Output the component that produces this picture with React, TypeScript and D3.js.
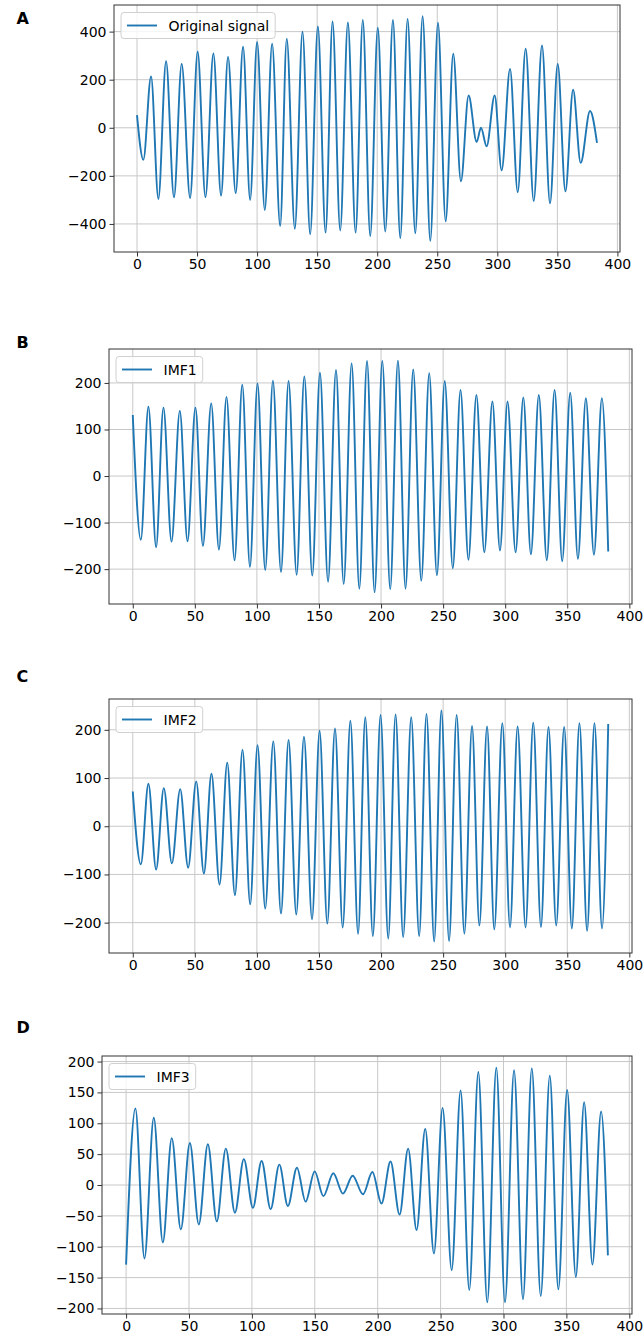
import { useEffect, useRef } from "react";
import * as d3 from "d3";

const WIDTH = 644;
const HEIGHT = 1339;
const BLUE = "#1f77b4";
const FONT = "'DejaVu Sans', 'Liberation Sans', sans-serif";

// turning points (sample index, amplitude)
const originalX = [0, 5.3, 11.7, 17.8, 24.2, 30.8, 37.2, 44.2, 50.5, 57, 63.6, 70, 75.8, 82.2, 88.3, 94.2, 100, 106.4, 112.5, 119.2, 124.7, 131.4, 137.8, 144.2, 150.6, 157, 162.8, 169.2, 175.6, 182, 188, 194.2, 200.5, 206.7, 213.1, 219.2, 225.3, 231.7, 237.8, 244.2, 250.6, 257, 263.3, 269.7, 276.1, 282.8, 286.4, 291.1, 297.8, 303.6, 310.6, 317, 323.6, 330.3, 337.2, 343.9, 350.3, 356.7, 363.1, 369.4, 377.2, 383];
const originalY = [53, -133, 214, -296, 277, -289, 266, -292, 316, -289, 309, -282, 295, -272, 337, -300, 357, -342, 350, -408, 371, -420, 400, -443, 421, -436, 442, -427, 438, -436, 449, -450, 416, -432, 448, -459, 453, -439, 464, -470, 437, -389, 308, -223, 134, -59, 0, -77, 134, -177, 245, -268, 329, -305, 342, -314, 266, -264, 158, -146, 70, -63];

const imf1X = [0, 6.5, 12.6, 18.8, 24.7, 31.2, 37.9, 44.1, 50.5, 56.5, 63.2, 69.4, 75.5, 82, 88.2, 94.4, 100.5, 106.7, 112.9, 119.4, 125.5, 132, 138.2, 144.6, 150.8, 157.3, 163.7, 169.9, 176.3, 182.5, 188.7, 194.8, 201, 207.4, 213.6, 219.7, 225.9, 232.4, 238.8, 245, 251.3, 257.8, 264, 270.4, 276.8, 283.2, 289.7, 295.8, 301.9, 308.4, 314.6, 320.7, 327.1, 333.5, 339.8, 345.9, 352.4, 358.6, 365, 371.5, 377.9, 383];
const imf1Y = [131, -137, 149, -153, 147, -141, 140, -140, 147, -150, 156, -158, 170, -181, 196, -195, 199, -202, 205, -206, 204, -212, 214, -214, 222, -227, 228, -232, 242, -242, 247, -250, 247, -243, 248, -242, 229, -225, 221, -213, 204, -198, 185, -180, 174, -164, 160, -160, 160, -164, 169, -168, 174, -181, 185, -183, 179, -178, 167, -169, 167, -162];

const imf2X = [0, 6.5, 12.6, 18.8, 25, 31.5, 38.2, 44.6, 51.1, 57.3, 63.4, 69.9, 76.1, 82.3, 88.4, 94.6, 100.5, 106.7, 113.2, 119.4, 125.5, 131.7, 137.9, 144.4, 150.5, 156.7, 162.9, 169.1, 175.3, 181.5, 187.3, 193.4, 199.6, 205.8, 211.7, 217.8, 224.3, 230.7, 236.6, 242.8, 248.6, 254.8, 260.9, 267.1, 273.3, 279.2, 285.4, 291.2, 297.7, 303.9, 310, 316.4, 322.6, 328.8, 334.9, 341.1, 347.5, 353.7, 359.8, 366, 371.9, 378, 383];
const imf2Y = [72, -79, 88, -90, 79, -77, 77, -86, 93, -98, 109, -121, 132, -143, 159, -162, 168, -171, 176, -181, 179, -183, 186, -193, 198, -202, 203, -210, 219, -223, 226, -228, 231, -233, 232, -230, 226, -228, 233, -239, 240, -238, 231, -223, 208, -206, 207, -214, 214, -210, 207, -210, 215, -209, 206, -206, 206, -212, 214, -217, 214, -212, 212];

const imf3X = [0, 7.4, 14.6, 22, 29.2, 36.3, 43.5, 50.7, 57.8, 65, 72.1, 79.3, 86.5, 93.6, 100.8, 107.7, 114.9, 121.8, 128.6, 135.8, 142.7, 149.9, 156.8, 164.7, 172.4, 180.1, 188.3, 195.8, 203, 210.2, 217.4, 224.2, 230.9, 237.8, 244.7, 251.6, 258.8, 265.9, 272.8, 280, 287.1, 294.3, 301.2, 308.4, 315.5, 322.5, 329.6, 336.8, 343.6, 350.6, 357.5, 364.1, 370.7, 377.6, 383];
const imf3Y = [-129, 124, -119, 109, -93, 76, -72, 68, -64, 66, -59, 59, -45, 42, -37, 39, -39, 33, -34, 28, -27, 22, -18, 19, -14, 15, -15, 21, -30, 38, -48, 59, -73, 91, -111, 125, -138, 153, -170, 183, -190, 190, -190, 186, -185, 189, -180, 177, -169, 154, -149, 134, -129, 119, -114];

const xTicks = [0, 50, 100, 150, 200, 250, 300, 350, 400];
const ticksOriginal = [-400, -200, 0, 200, 400];
const ticksImf = [-200, -100, 0, 100, 200];
const ticksImf3 = [-200, -150, -100, -50, 0, 50, 100, 150, 200];

const panels = [
  { letter: "A", letterY: 24, label: "Original signal", xs: originalX, ys: originalY, yTicks: ticksOriginal, box: { left: 114, right: 620, top: 5, bottom: 252 } },
  { letter: "B", letterY: 348, label: "IMF1", xs: imf1X, ys: imf1Y, yTicks: ticksImf, box: { left: 109, right: 632, top: 349, bottom: 604 } },
  { letter: "C", letterY: 682, label: "IMF2", xs: imf2X, ys: imf2Y, yTicks: ticksImf, box: { left: 109, right: 632, top: 699, bottom: 953 } },
  { letter: "D", letterY: 1033, label: "IMF3", xs: imf3X, ys: imf3Y, yTicks: ticksImf3, box: { left: 102, right: 632, top: 1056, bottom: 1314 } },
];

// matplotlib-style 5% margin around the data
function padded(values: number[]): [number, number] {
  const [lo, hi] = d3.extent(values) as [number, number];
  const m = (hi - lo) * 0.05;
  return [lo - m, hi + m];
}

export default function App() {
  const svgRef = useRef<SVGSVGElement>(null);

  useEffect(() => {
    if (!svgRef.current) return;
    const svg = d3.select(svgRef.current);
    svg.selectAll("*").remove();

    panels.forEach((p) => {
      const { left, right, top, bottom } = p.box;
      const x = d3.scaleLinear().domain(padded(p.xs)).range([left, right]);
      const y = d3.scaleLinear().domain(padded(p.ys)).range([bottom, top]);
      const g = svg.append("g");

      g.append("text")
        .attr("x", 16.5)
        .attr("y", p.letterY)
        .attr("font-family", FONT)
        .attr("font-size", 16)
        .attr("font-weight", "bold")
        .text(p.letter);

      // grid
      g.selectAll(".gx")
        .data(xTicks)
        .join("line")
        .attr("x1", (d) => x(d))
        .attr("x2", (d) => x(d))
        .attr("y1", top)
        .attr("y2", bottom)
        .attr("stroke", "#c8c8c8")
        .attr("stroke-width", 1);
      g.selectAll(".gy")
        .data(p.yTicks)
        .join("line")
        .attr("x1", left)
        .attr("x2", right)
        .attr("y1", (d) => y(d))
        .attr("y2", (d) => y(d))
        .attr("stroke", "#c8c8c8")
        .attr("stroke-width", 1);

      // signal
      const line = d3
        .line<number>()
        .x((_, i) => x(p.xs[i]))
        .y((d) => y(d))
        .curve(d3.curveMonotoneX);
      g.append("path")
        .datum(p.ys)
        .attr("d", line)
        .attr("fill", "none")
        .attr("stroke", BLUE)
        .attr("stroke-width", 1.9)
        .attr("stroke-linejoin", "round");

      // frame
      g.append("rect")
        .attr("x", left)
        .attr("y", top)
        .attr("width", right - left)
        .attr("height", bottom - top)
        .attr("fill", "none")
        .attr("stroke", "#333")
        .attr("stroke-width", 1);

      const fmt = d3.format("d");
      const xAxis = g
        .append("g")
        .attr("transform", `translate(0,${bottom})`)
        .call(d3.axisBottom(x).tickValues(xTicks).tickSize(4.5).tickPadding(2.5).tickFormat((d) => fmt(d as number)));
      const yAxis = g
        .append("g")
        .attr("transform", `translate(${left},0)`)
        .call(d3.axisLeft(y).tickValues(p.yTicks).tickSize(4.5).tickPadding(3).tickFormat((d) => fmt(d as number)));
      [xAxis, yAxis].forEach((a) => {
        a.attr("font-family", FONT).attr("font-size", 14);
        a.select(".domain").remove();
        a.selectAll("line").attr("stroke", "#333");
        a.selectAll("text").attr("fill", "#000");
      });

      // legend
      const lx = left + 7;
      const ly = top + 7.5;
      const lh = 26;
      const legend = g.append("g");
      const bg = legend
        .append("rect")
        .attr("x", lx)
        .attr("y", ly)
        .attr("height", lh)
        .attr("rx", 3)
        .attr("fill", "#fff")
        .attr("fill-opacity", 0.8)
        .attr("stroke", "#d0d0d0");
      legend
        .append("line")
        .attr("x1", lx + 6)
        .attr("x2", lx + 36)
        .attr("y1", ly + lh / 2)
        .attr("y2", ly + lh / 2)
        .attr("stroke", BLUE)
        .attr("stroke-width", 1.9);
      const label = legend
        .append("text")
        .attr("x", lx + 47.5)
        .attr("y", ly + lh / 2 + 5)
        .attr("font-family", FONT)
        .attr("font-size", 14)
        .text(p.label);
      const tw = (label.node() as SVGTextElement).getComputedTextLength();
      bg.attr("width", 47.5 + tw + 6);
    });
  }, []);

  return (
    <svg
      ref={svgRef}
      width={WIDTH}
      height={HEIGHT}
      style={{ position: "absolute", left: 0, top: 0, background: "#fff" }}
    />
  );
}
